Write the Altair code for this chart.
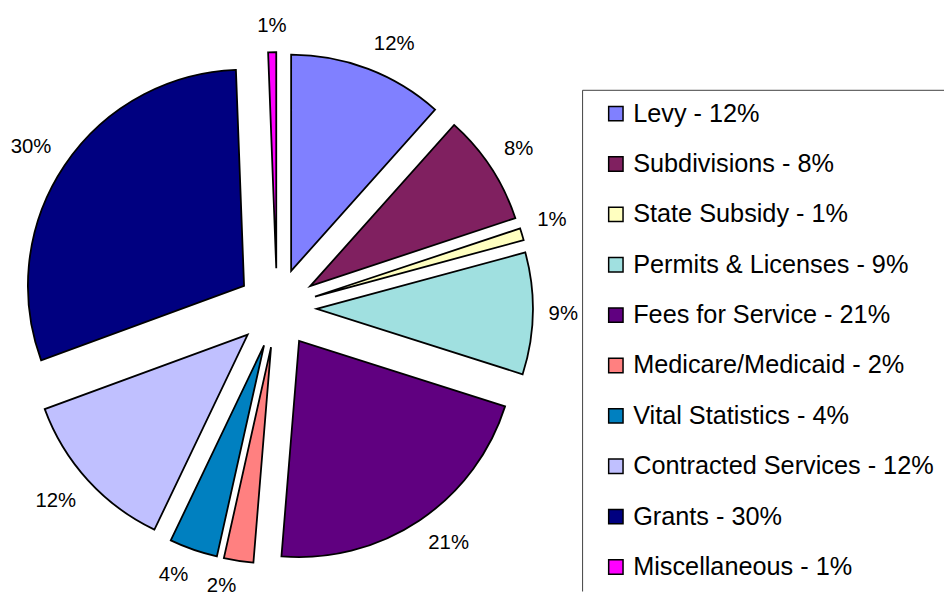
import math
import altair as alt
import pandas as pd

# ---- data ----
categories = ["Levy", "Subdivisions", "State Subsidy", "Permits & Licenses",
              "Fees for Service", "Medicare/Medicaid", "Vital Statistics",
              "Contracted Services", "Grants", "Miscellaneous"]
# slice shares (percent)
shares = [11.6, 8.3, 0.9, 9.1, 21.4, 2.2, 3.6, 12.3, 30.0, 0.6]
# percentages as printed on the chart
percent_labels = [12, 8, 1, 9, 21, 2, 4, 12, 30, 1]
colors = ["#8080FF", "#802060", "#FFFFC0", "#A0E0E0", "#600080",
          "#FF8080", "#0080C0", "#C0C0FF", "#000080", "#FF00FF"]

legend_labels = [f"{c} - {p}%" for c, p in zip(categories, percent_labels)]

df = pd.DataFrame({
    "category": categories,
    "share": shares,
    "pct": [f"{p}%" for p in percent_labels],
    "order": list(range(len(categories))),
    "label": legend_labels,
})

# ---- layout parameters (pixels, plot coordinates) ----
CX, CY = 271.3, 300.0      # pie centre
EXPLODE = 40               # explosion distance of each slice
R_OUT = 218                # slice radius
LABEL_GAP = 234            # label anchor distance from slice apex
FONT = "Liberation Sans"
TOTAL = sum(shares)

base = alt.Chart(df).transform_window(
    cum="sum(share)", sort=[alt.SortField("order")], frame=[None, 0]
).transform_calculate(
    start="datum.cum - datum.share",
    ang=f"2 * PI * (datum.cum - datum.share / 2) / {TOTAL}",
).transform_calculate(
    px=f"{CX} + {EXPLODE} * sin(datum.ang)",
    py=f"{CY} - {EXPLODE} * cos(datum.ang)",
    lx=f"{CX} + {EXPLODE + LABEL_GAP} * sin(datum.ang)",
    ly=f"{CY} - {EXPLODE + LABEL_GAP} * cos(datum.ang)",
)

theta_scale = alt.Scale(domain=[0, TOTAL], range=[0, 2 * math.pi])

frame = alt.Chart(pd.DataFrame({"frame": [0]})).mark_rect(
    fill="white", stroke="#404040", strokeWidth=1, clip=True
).encode(
    x=alt.value(579.5), x2=alt.value(1000), y=alt.value(80.5), y2=alt.value(700)
)

arcs = base.mark_arc(outerRadius=R_OUT, stroke="black", strokeWidth=1.8).encode(
    theta=alt.Theta("start:Q", scale=theta_scale, stack=None),
    theta2="cum:Q",
    x=alt.X("px:Q", scale=None, axis=None),
    y=alt.Y("py:Q", scale=None, axis=None),
    color=alt.Color(
        "label:N",
        sort=legend_labels,
        scale=alt.Scale(domain=legend_labels, range=colors),
        legend=alt.Legend(
            title=None, orient="none", legendX=579.3, legendY=80.3,
            symbolType="square", symbolSize=210, symbolStrokeColor="black",
            symbolStrokeWidth=1.5, symbolOffset=10,
            labelFont=FONT, labelFontSize=25.5, labelColor="black",
            labelOffset=4.7, labelLimit=600, rowPadding=23.8, padding=11,
        ),
    ),
)

texts = base.mark_text(
    font=FONT, fontSize=20.5, color="black",
    align=alt.expr("sin(datum.ang) > 0.1 ? 'left' : (sin(datum.ang) < -0.1 ? 'right' : 'center')"),
    baseline=alt.expr("cos(datum.ang) > 0.25 ? 'bottom' : (cos(datum.ang) < -0.3 ? 'top' : 'middle')"),
).encode(
    x=alt.X("lx:Q", scale=None, axis=None),
    y=alt.Y("ly:Q", scale=None, axis=None),
    text="pct:N",
)

chart = alt.layer(frame, arcs, texts).properties(
    width=944, height=586,
    autosize=alt.AutoSizeParams(type="none"),
    padding=0,
).configure_view(stroke=None)

chart.save("out.html", embed_options={"renderer": "svg", "actions": False})
